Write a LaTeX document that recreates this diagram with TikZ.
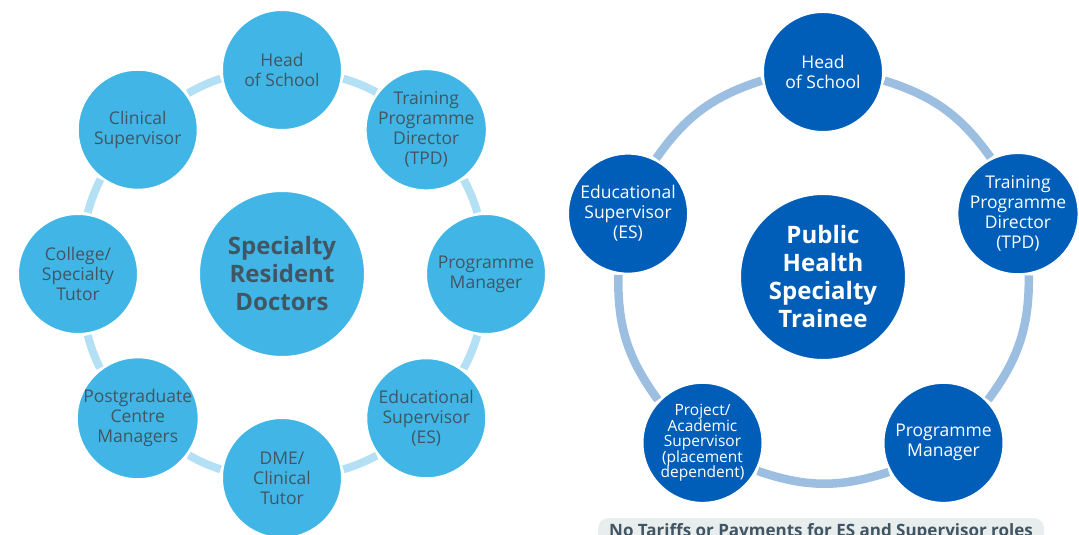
\documentclass[tikz,border=0pt]{standalone}
\usepackage{fontspec}
\setmainfont{Open Sans}
\usetikzlibrary{positioning}

\definecolor{skyfill}{HTML}{41B6E6}
\definecolor{skyring}{HTML}{B3E0F4}
\definecolor{navyfill}{HTML}{005EB8}
\definecolor{navyring}{HTML}{9BBEE1}
\definecolor{slate}{HTML}{425563}
\definecolor{palegrey}{HTML}{E8EDEE}

\tikzset{
	role/.style={circle,minimum size=121,inner sep=0,draw=white,line width=3,align=center,
		font=\fontsize{17.5}{20}\selectfont},
	skyrole/.style={role,fill=skyfill,text=slate},
	navyrole/.style={role,fill=navyfill,text=white},
	hub/.style={circle,minimum size=167,inner sep=0,draw=white,line width=3,align=center,
		font=\fontsize{24}{28}\selectfont\bfseries},
}

\begin{document}
\begin{tikzpicture}[x=1pt,y=1pt]

		\useasboundingbox (0,0) rectangle (1079,535);
		\coordinate (L) at (282,261) ;
		\coordinate (R) at (823,258) ;

		% left ring
		\node [hub,fill=skyfill,text=slate] (ldoc) at (L) {Specialty\\Resident\\Doctors};
		\foreach \a/\n/\t in {90/lhead/{Head\\of School},45/ltpd/{Training\\Programme\\Director\\(TPD)},
				0/lpm/{Programme\\Manager},-45/les/{Educational\\Supervisor\\(ES)},
				-90/ldme/{DME/\\Clinical\\Tutor},-135/lpcm/{Postgraduate\\Centre\\Managers},
				180/lcst/{College/\\Specialty\\Tutor},135/lcs/{Clinical\\Supervisor}}
			\node [skyrole] (\n) at ([shift={(\a:204)}]L) {\t};

		\foreach \p/\a/\q [evaluate=\a as \s using \a-98.7, evaluate=\a as \e using \a+53.7]
				in {lhead/90/ltpd,ltpd/45/lpm,lpm/0/les,les/-45/ldme,ldme/-90/lpcm,
				lpcm/-135/lcst,lcst/180/lcs,lcs/135/lhead}
			\draw [skyring,line width=8] (\p.\s) to [bend left=5] (\q.\e) ;

		% right ring
		\node [hub,fill=navyfill,text=white] (rtrainee) at (R) {Public\\Health\\Specialty\\Trainee};
		\foreach \a/\n/\t in {90/rhead/{Head\\of School},18/rtpd/{Training\\Programme\\Director\\(TPD)},
				-54/rpm/{Programme\\Manager},162/res/{Educational\\Supervisor\\(ES)}}
			\node [navyrole] (\n) at ([shift={(\a:205)}]R) {\t};
		\node [navyrole,font=\fontsize{15.5}{15.5}\selectfont] (rpas) at ([shift={(-126:205)}]R)
			{Project/\\Academic\\Supervisor\\(placement\\dependent)};

		\foreach \p/\a/\q [evaluate=\a as \s using \a-98.7, evaluate=\a as \e using \a+26.7]
				in {rhead/90/rtpd,rtpd/18/rpm,rpm/-54/rpas,rpas/-126/res,res/162/rhead}
			\draw [navyring,line width=8.5] (\p.\s) to [bend left=18.6] (\q.\e) ;

		% note under the right ring
		\node [anchor=north,fill=palegrey,rounded corners=10,minimum width=446,
			inner ysep=6,text=slate,font=\fontsize{17}{19}\selectfont\bfseries,text height=12,text depth=16]
			(note) at (821,17) {No Tariffs or Payments for ES and Supervisor roles};

\end{tikzpicture}
\end{document}
